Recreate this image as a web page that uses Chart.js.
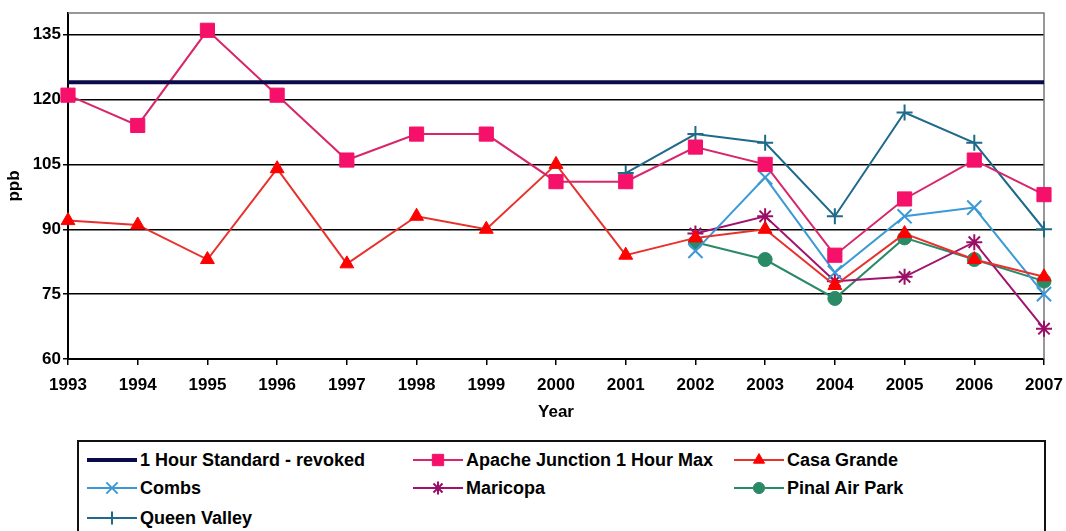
<!DOCTYPE html>
<html>
<head>
<meta charset="utf-8">
<script src="https://cdn.jsdelivr.net/npm/chart.js@4.4.1/dist/chart.umd.min.js"></script>
<style>
  body { margin: 0; background: #fff; font-family: "Liberation Sans", Arial, sans-serif; }
  #wrap { position: relative; width: 1066px; height: 531px; overflow: hidden; }
  #chartBox { position: absolute; left: 0; top: 0; width: 1066px; height: 436px; }
  #legend { position: absolute; left: 77px; top: 440px; width: 969px; height: 120px;
            border: 2px solid #111; box-sizing: border-box; }
  .item { position: absolute; display: flex; align-items: center; height: 24px;
          font-weight: bold; font-size: 18px; color: #000; white-space: nowrap; }
  .item canvas { margin-right: 3px; }
</style>
</head>
<body>
<div id="wrap">
  <div id="chartBox"><canvas id="ozoneChart"></canvas></div>
  <div id="legend"></div>
</div>
<script>
var years = ["1993", "1994", "1995", "1996", "1997", "1998", "1999", "2000",
             "2001", "2002", "2003", "2004", "2005", "2006", "2007"];
var yTicks = [60, 75, 90, 105, 120, 135];

var standard = [124, 124, 124, 124, 124, 124, 124, 124, 124, 124, 124, 124, 124, 124, 124];
var apacheJunction = [121, 114, 136, 121, 106, 112, 112, 101, 101, 109, 105, 84, 97, 106, 98];
var casaGrande = [92, 91, 83, 104, 82, 93, 90, 105, 84, 88, 90, 77, 89, 83, 79];
var combs = [null, null, null, null, null, null, null, null, null, 85, 102, 80, 93, 95, 75];
var maricopa = [null, null, null, null, null, null, null, null, null, 89, 93, 78, 79, 87, 67];
var pinalAirPark = [null, null, null, null, null, null, null, null, null, 87, 83, 74, 88, 83, 78];
var queenValley = [null, null, null, null, null, null, null, null, 103, 112, 110, 93, 117, 110, 90];

function series(label, data, line, fill, style, radius, width) {
  return {
    label: label,
    data: data,
    borderColor: line,
    backgroundColor: fill,
    pointBackgroundColor: fill,
    pointBorderColor: fill,
    pointStyle: style,
    pointRadius: radius,
    pointBorderWidth: style === 'crossRot' || style === 'cross' || style === 'star' ? 2 : 1,
    borderWidth: width,
    fill: false,
    tension: 0,
    spanGaps: false
  };
}

var datasets = [
  series("1 Hour Standard - revoked", standard, "#0a0a4a", "#0a0a4a", false, 0, 4),
  series("Apache Junction 1 Hour Max", apacheJunction, "#d8266a", "#f5106a", 'rect', 10, 2),
  series("Casa Grande", casaGrande, "#e8302c", "#ff0000", 'triangle', 8, 2),
  series("Combs", combs, "#3b9ad6", "#3b9ad6", 'crossRot', 10, 2),
  series("Maricopa", maricopa, "#a2136e", "#9a0f66", 'star', 8, 2),
  series("Pinal Air Park", pinalAirPark, "#2b8a66", "#2b8a66", 'circle', 7, 2),
  series("Queen Valley", queenValley, "#1f6a8a", "#1f6a8a", 'cross', 8, 2)
];

var tickFont = { family: "'Liberation Sans', Arial, sans-serif", size: 17, weight: 'bold' };

var framePlugin = {
  id: 'frame',
  beforeDatasetsDraw: function (chart) {
    var a = chart.chartArea;
    var c = chart.ctx;
    c.save();
    c.strokeStyle = '#777';
    c.lineWidth = 1.5;
    c.beginPath();
    c.moveTo(a.left, a.top);
    c.lineTo(a.right, a.top);
    c.lineTo(a.right, a.bottom);
    c.stroke();
    c.restore();
  }
};

var ctx = document.getElementById('ozoneChart').getContext("2d");

var myChart = new Chart(ctx, {
  type: 'line',
  data: {
    labels: years,
    datasets: datasets
  },
  options: {
    maintainAspectRatio: false,
    animation: false,
    layout: { padding: { top: 13, right: 22, bottom: 9, left: 0 } },
    plugins: {
      legend: { display: false },
      tooltip: { enabled: false }
    },
    scales: {
      x: {
        offset: false,
        grid: { display: true, drawOnChartArea: false, drawTicks: true, tickLength: 6, color: '#000', lineWidth: 1.5 },
        border: { color: '#000', width: 2 },
        ticks: { color: '#000', font: tickFont, maxRotation: 0, autoSkip: false, padding: 10 },
        title: { display: true, text: 'Year', color: '#000',
                 font: { family: "'Liberation Sans', Arial, sans-serif", size: 17, weight: 'bold' } },
        afterFit: function (scale) {
          scale.height = 68;
          scale.paddingLeft = 0;
          scale.paddingRight = 0;
        }
      },
      y: {
        min: 60,
        max: 140,
        afterBuildTicks: function (scale) {
          scale.ticks = yTicks.map(function (v) { return { value: v }; });
        },
        grid: { color: '#000', lineWidth: 1.5, tickLength: 5 },
        border: { color: '#000', width: 2 },
        ticks: { color: '#000', font: tickFont, padding: 2 },
        title: { display: true, text: 'ppb', color: '#000', padding: { top: 4, bottom: 0 },
                 font: { family: "'Liberation Sans', Arial, sans-serif", size: 17, weight: 'bold' } },
        afterFit: function (scale) { scale.width = 68; }
      }
    }
  },
  plugins: [framePlugin]
});

// legend laid out in three columns like the original
var legendEl = document.getElementById('legend');
var colX = [8, 334, 655];
var rowY = [6, 34, 64];
datasets.forEach(function (ds, i) {
  var item = document.createElement('div');
  item.className = 'item';
  item.style.left = colX[i % 3] + 'px';
  item.style.top = rowY[Math.floor(i / 3)] + 'px';
  var icon = document.createElement('canvas');
  icon.width = 50;
  icon.height = 20;
  var g = icon.getContext('2d');
  g.strokeStyle = ds.borderColor;
  g.lineWidth = i === 0 ? 4 : 2;
  g.beginPath();
  g.moveTo(0, 10);
  g.lineTo(50, 10);
  g.stroke();
  if (ds.pointStyle) {
    g.fillStyle = ds.pointBackgroundColor;
    g.strokeStyle = ds.pointBorderColor;
    g.lineWidth = ds.pointBorderWidth;
    Chart.helpers.drawPoint(g, { pointStyle: ds.pointStyle, radius: ds.pointRadius * 0.8, borderWidth: ds.pointBorderWidth, rotation: 0 }, 25, 10);
  }
  var text = document.createElement('span');
  text.textContent = ds.label;
  item.appendChild(icon);
  item.appendChild(text);
  legendEl.appendChild(item);
});
</script>
</body>
</html>
